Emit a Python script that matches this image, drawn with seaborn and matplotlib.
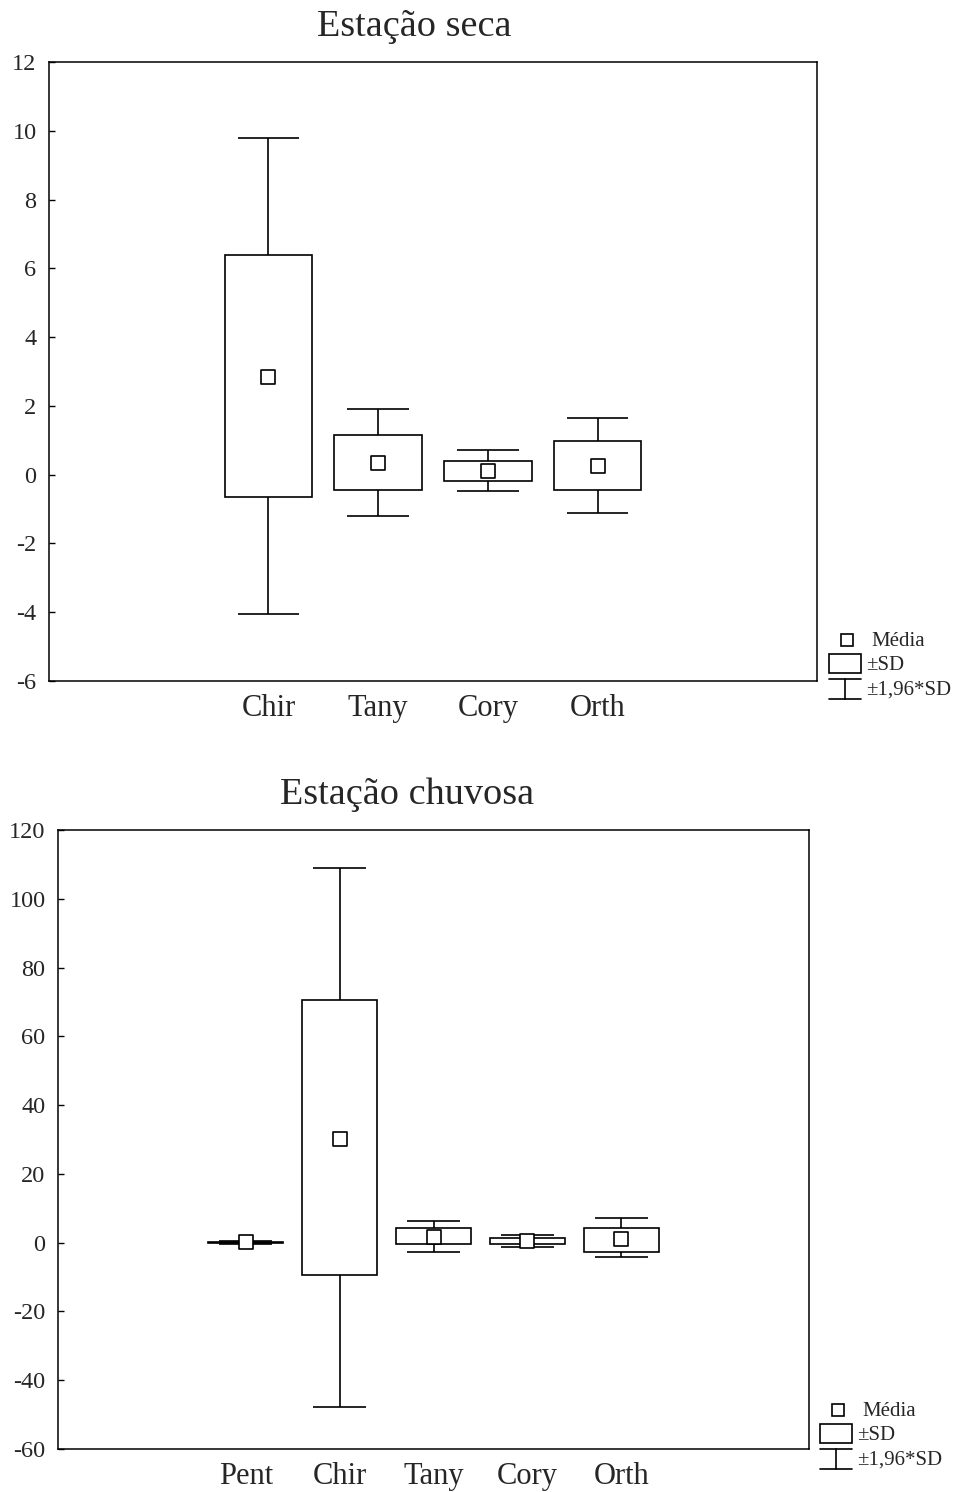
import numpy as np
import matplotlib
matplotlib.use("Agg")
import matplotlib.pyplot as plt
from matplotlib.lines import Line2D
from matplotlib.patches import Rectangle
import seaborn as sns

# ---- data ----
seca_cats = ["Chir", "Tany", "Cory", "Orth"]
seca_mean = [2.85, 0.34, 0.11, 0.24]
seca_sd_low = [-0.65, -0.44, -0.18, -0.44]
seca_sd_high = [6.39, 1.15, 0.40, 0.98]
seca_ci_low = [-4.06, -1.20, -0.48, -1.11]
seca_ci_high = [9.79, 1.91, 0.71, 1.65]
seca_yticks = [-6, -4, -2, 0, 2, 4, 6, 8, 10, 12]

chuv_cats = ["Pent", "Chir", "Tany", "Cory", "Orth"]
chuv_mean = [0.05, 30.2, 1.75, 0.45, 1.07]
chuv_sd_low = [-0.2, -9.4, -0.47, -0.47, -2.6]
chuv_sd_high = [0.3, 70.6, 4.2, 1.28, 4.36]
chuv_ci_low = [-0.5, -47.8, -2.7, -1.16, -4.16]
chuv_ci_high = [0.6, 108.9, 6.4, 2.24, 7.27]
chuv_yticks = [-60, -40, -20, 0, 20, 40, 60, 80, 100, 120]

legend_labels = ["Média", "±SD", "±1,96*SD"]
titles = ["Estação seca", "Estação chuvosa"]

sns.set_style("ticks")
plt.rcParams["font.family"] = ["Liberation Serif", "DejaVu Serif"]

W, H = 963, 1492
fig = plt.figure(figsize=(W / 100, H / 100), dpi=100)
LW = 1.2


def fx(px):
    return px / W


def fy(py):
    return 1 - py / H


def panel(rect_px, cats, mean, sdl, sdh, cil, cih, yticks, xlim, msize):
    l, t, r, b = rect_px
    ax = fig.add_axes([fx(l), fy(b), fx(r) - fx(l), fy(t) - fy(b)])
    pos = np.arange(len(cats))
    sdl, sdh, cil, cih = map(np.asarray, (sdl, sdh, cil, cih))
    cap = 0.28
    ax.vlines(pos, sdh, cih, color="black", lw=LW, zorder=1)
    ax.vlines(pos, cil, sdl, color="black", lw=LW, zorder=1)
    ax.hlines(cih, pos - cap, pos + cap, color="black", lw=LW, zorder=1)
    ax.hlines(cil, pos - cap, pos + cap, color="black", lw=LW, zorder=1)
    ax.bar(pos, sdh - sdl, bottom=sdl, width=0.8, facecolor="white",
           edgecolor="black", linewidth=LW, zorder=2)
    sns.scatterplot(x=pos, y=mean, marker="s", s=msize, color="white",
                    edgecolor="black", linewidth=LW, ax=ax, zorder=3,
                    legend=False)
    ax.set_xlim(*xlim)
    ax.set_ylim(yticks[0], yticks[-1])
    ax.set_yticks(yticks)
    ax.set_yticklabels([str(v) for v in yticks])
    ax.set_xticks(pos)
    ax.set_xticklabels(cats)
    ax.tick_params(axis="y", direction="in", length=4, width=1, pad=9,
                   labelsize=17.5, color="black")
    ax.tick_params(axis="x", length=0, pad=9.5, labelsize=22)
    for s in ax.spines.values():
        s.set_visible(True)
        s.set_linewidth(1.1)
        s.set_color("black")
    ax.set_xlabel("")
    ax.set_ylabel("")
    return ax


def legend(dx, dy):
    fig.add_artist(Line2D([fx(847 + dx)], [fy(639.5 + dy)], marker="s",
                          markersize=9, markerfacecolor="white",
                          markeredgecolor="black", markeredgewidth=LW,
                          linestyle="none", transform=fig.transFigure))
    fig.add_artist(Rectangle((fx(829 + dx), fy(673 + dy)), fx(32), fy(654) - fy(673),
                             facecolor="white", edgecolor="black", lw=LW,
                             transform=fig.transFigure))
    for yy in (679, 698.5):
        fig.add_artist(Line2D([fx(829 + dx), fx(861 + dx)], [fy(yy + dy)] * 2,
                              color="black", lw=LW, transform=fig.transFigure))
    fig.add_artist(Line2D([fx(845 + dx)] * 2, [fy(679 + dy), fy(698.5 + dy)],
                          color="black", lw=LW, transform=fig.transFigure))
    ys = [641, 665, 690]
    xs = [871, 866, 866]
    for lab, xx, yy in zip(legend_labels, xs, ys):
        fig.text(fx(xx + dx), fy(yy + dy), lab, fontsize=15, va="center", ha="left")


panel((49, 62, 817, 681), seca_cats, seca_mean, seca_sd_low, seca_sd_high,
      seca_ci_low, seca_ci_high, seca_yticks, (-2, 5), 100)
panel((58, 830, 809, 1449), chuv_cats, chuv_mean, chuv_sd_low, chuv_sd_high,
      chuv_ci_low, chuv_ci_high, chuv_yticks, (-2, 6), 88)

fig.text(fx(414), fy(27), titles[0], fontsize=27.5, ha="center", va="center")
fig.text(fx(407), fy(795), titles[1], fontsize=27.5, ha="center", va="center")

legend(0, 0)
legend(-9, 770)

fig.savefig("out.png", dpi=100)
